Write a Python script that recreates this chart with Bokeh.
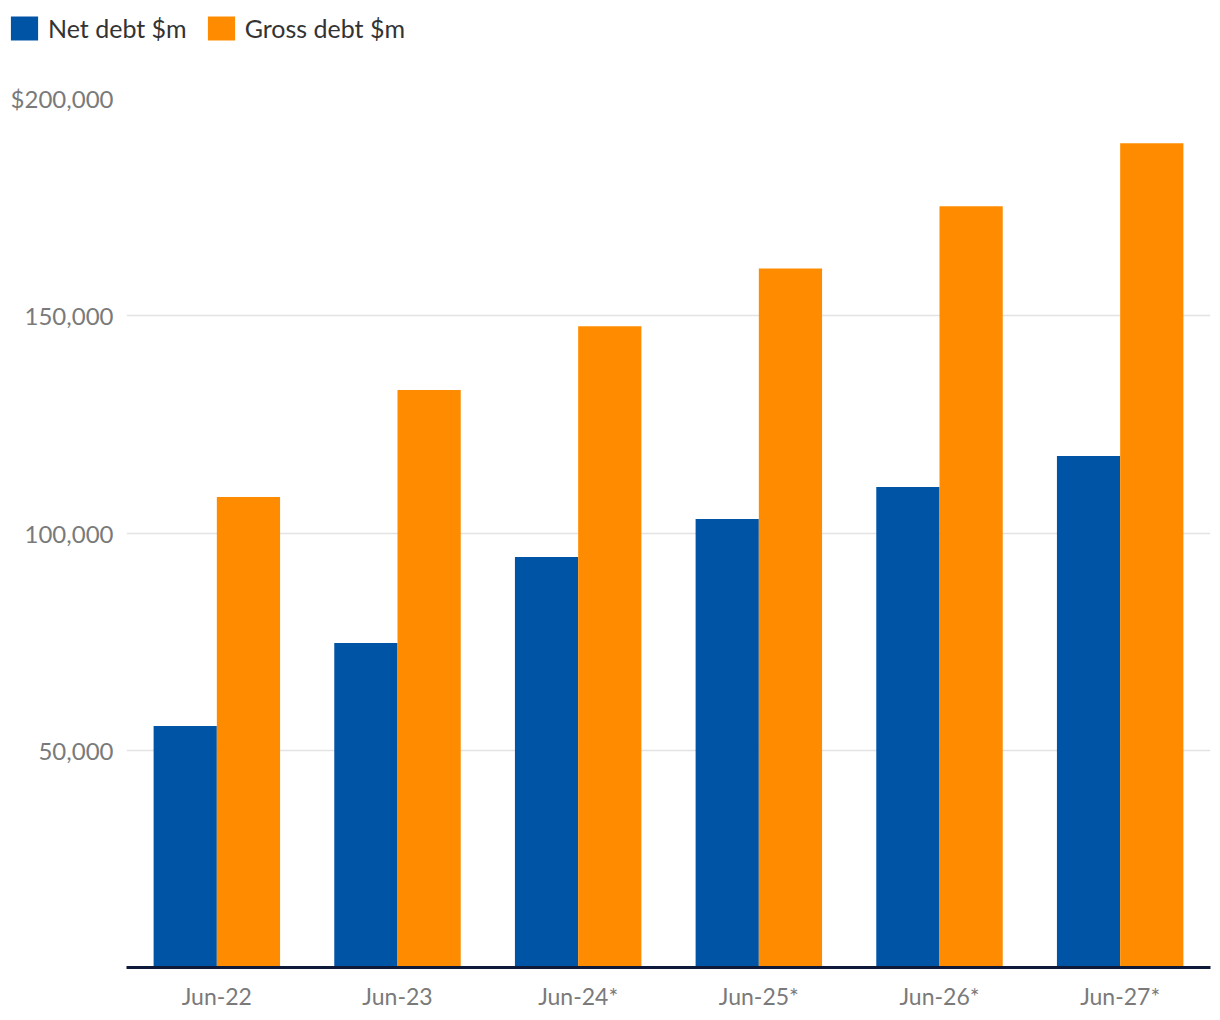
from bokeh.plotting import figure
from bokeh.models import ColumnDataSource, FixedTicker, Legend, LegendItem
from bokeh.layouts import column, row
from bokeh.transform import dodge
from bokeh.embed import file_html
from bokeh.resources import INLINE

categories = ["Jun-22", "Jun-23", "Jun-24*", "Jun-25*", "Jun-26*", "Jun-27*"]
net_debt = [55600, 74700, 94500, 103200, 110600, 117700]
gross_debt = [108300, 132900, 147600, 160900, 175200, 189700]
series_names = ["Net debt $m", "Gross debt $m"]
y_ticks = [50000, 100000, 150000, 200000]
y_tick_labels = ["50,000", "100,000", "150,000", "$200,000"]

FONT = "Lato"
BLUE = "#0054a6"
ORANGE = "#ff8c00"
W = 1216

# ---- legend strip ----
leg = figure(width=W, height=60, x_range=(0, 1), y_range=(0, 1),
             output_backend="svg", toolbar_location=None,
             min_border_left=7, min_border_right=0, min_border_top=13, min_border_bottom=0)
leg.xaxis.visible = False
leg.yaxis.visible = False
leg.grid.grid_line_color = None
leg.outline_line_color = None
# legend-only renderers (zero-height, outside the visible range)
d1 = leg.vbar(x=[-5], top=[0], bottom=[0], width=0.1, fill_color=BLUE, line_color=None)
d2 = leg.vbar(x=[-5], top=[0], bottom=[0], width=0.1, fill_color=ORANGE, line_color=None)
legend = Legend(items=[LegendItem(label=series_names[0], renderers=[d1]),
                       LegendItem(label=series_names[1], renderers=[d2])],
                orientation="horizontal", location="top_left",
                padding=0, margin=0, spacing=17,
                glyph_width=34, glyph_height=30, label_standoff=7,
                label_text_font=FONT, label_text_font_size="25px", label_text_color="#333333",
                border_line_alpha=0, background_fill_alpha=0)
leg.add_layout(legend, "center")

# ---- main chart ----
src = ColumnDataSource(dict(cat=categories, net=net_debt, gross=gross_debt))

p = figure(x_range=categories, y_range=(0, 200000), width=W, height=958,
           output_backend="svg", toolbar_location=None,
           min_border_left=126, min_border_right=6, min_border_top=38, min_border_bottom=51)
p.outline_line_color = None
p.background_fill_color = "white"

p.vbar(x=dodge("cat", -0.175, range=p.x_range), top="net", width=0.35, source=src,
       fill_color=BLUE, line_color=None)
p.vbar(x=dodge("cat", 0.175, range=p.x_range), top="gross", width=0.35, source=src,
       fill_color=ORANGE, line_color=None)

p.x_range.range_padding = 0
p.xgrid.grid_line_color = None
p.ygrid.grid_line_color = "#e3e3e3"
p.ygrid.grid_line_width = 1.5

p.yaxis.ticker = FixedTicker(ticks=y_ticks)
p.yaxis.major_label_overrides = {t: l for t, l in zip(y_ticks, y_tick_labels)}
p.yaxis.axis_line_color = None
p.yaxis.major_tick_line_color = None
p.yaxis.minor_tick_line_color = None
p.yaxis.major_tick_out = 0
p.yaxis.major_tick_in = 0
p.yaxis.major_label_text_font = FONT
p.yaxis.major_label_text_font_size = "24px"
p.yaxis.major_label_text_color = "#7a7a7a"
p.yaxis.major_label_standoff = 13

p.xaxis.axis_line_color = "#0d1a3a"
p.xaxis.axis_line_width = 3
p.xaxis.major_tick_line_color = None
p.xaxis.minor_tick_line_color = None
p.xaxis.major_tick_out = 0
p.xaxis.major_tick_in = 0
p.xaxis.major_label_text_font = FONT
p.xaxis.major_label_text_font_size = "23px"
p.xaxis.major_label_text_color = "#7a7a7a"
p.xaxis.major_label_standoff = 14

layout = column(row(leg), p, spacing=0)
open("out.html", "w").write(file_html(layout, INLINE))
